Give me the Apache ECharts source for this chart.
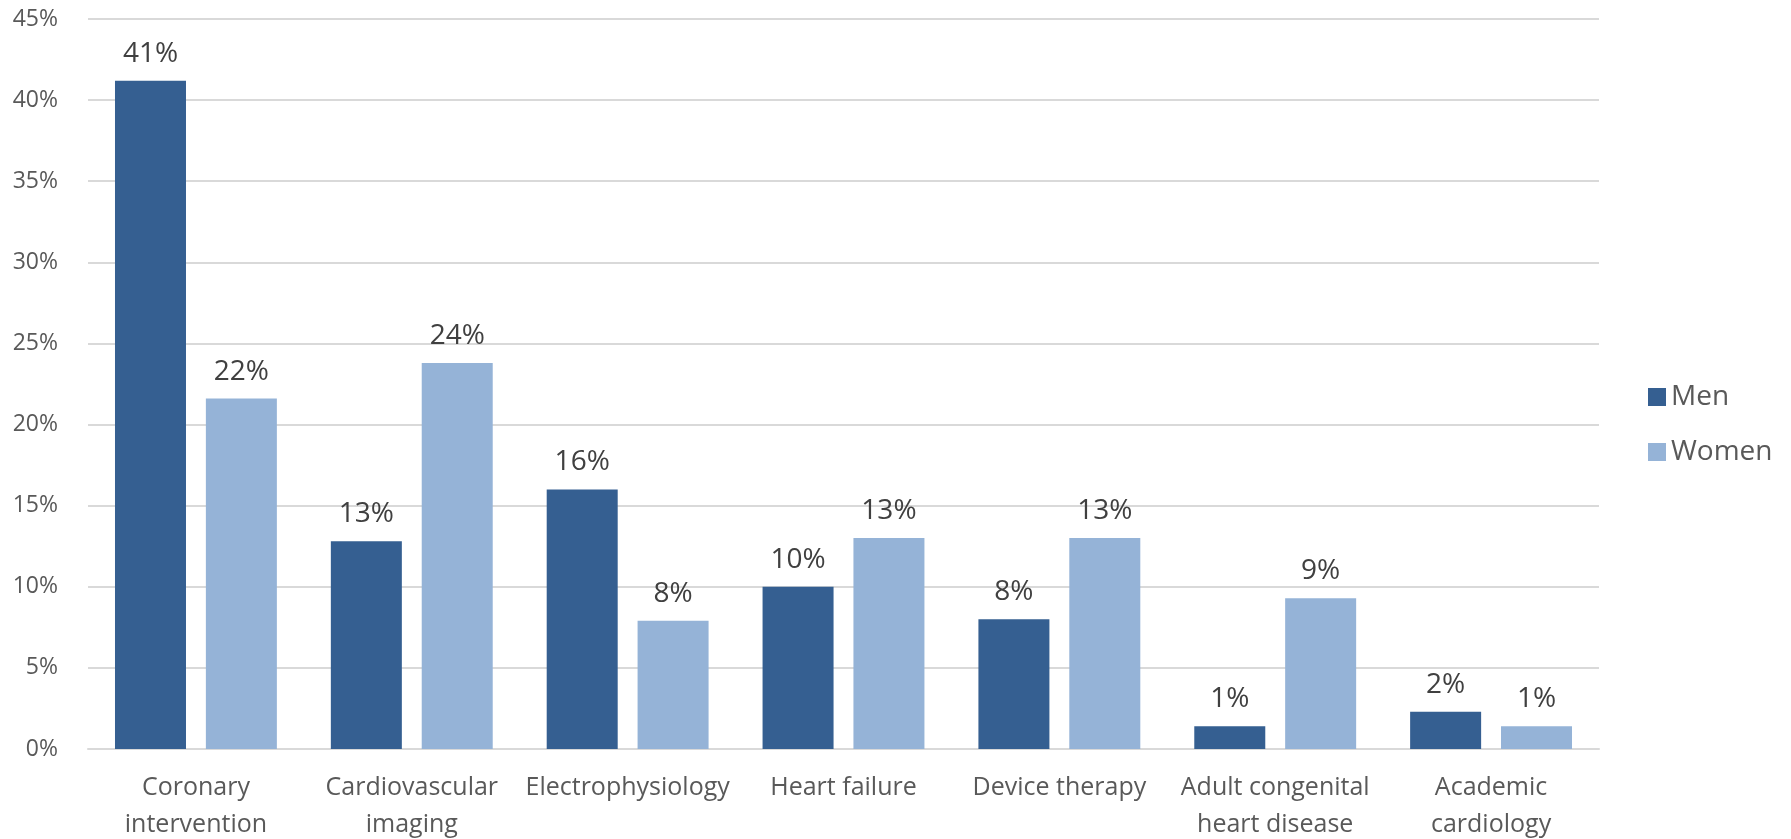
<!DOCTYPE html>
<html>
<head>
<meta charset="utf-8">
<script src="https://cdn.jsdelivr.net/npm/echarts@6/dist/echarts.min.js"></script>
<style>
  html,body{margin:0;padding:0;background:#fff}
  #chart{width:1791px;height:839px}
</style>
</head>
<body>
<div id="chart"></div>
<script>
  // categories and values (percent)
  const categories = ['Coronary\nintervention', 'Cardiovascular\nimaging', 'Electrophysiology', 'Heart failure', 'Device therapy', 'Adult congenital\nheart disease', 'Academic\ncardiology'];
  const men = [41.2, 12.8, 16.0, 10.0, 8.0, 1.4, 2.3];
  const women = [21.6, 23.8, 7.9, 13.0, 13.0, 9.3, 1.4];
  const yTicks = [0, 5, 10, 15, 20, 25, 30, 35, 40, 45];

  const font = '"Open Sans", "Noto Sans", sans-serif';
  const lbl = {
    show: true, position: 'top', distance: 13,
    color: '#404040', fontSize: 28, fontFamily: font,
    formatter: p => Math.round(p.value) + '%'
  };

  const chart = echarts.init(document.getElementById('chart'));
  chart.setOption({
    animation: false,
    grid: {left: 88, right: 192, top: 19, bottom: 90, containLabel: false, outerBoundsMode: 'none'},
    legend: {
      orient: 'vertical', left: 1643, top: 378, itemGap: 27,
      itemWidth: 18, itemHeight: 18, icon: 'rect',
      textStyle: {color: '#595959', fontSize: 28, fontFamily: font, padding: [0, 0, 0, 0]},
      data: ['Men', 'Women']
    },
    xAxis: {
      type: 'category', data: categories,
      axisLine: {show: true, lineStyle: {color: '#d9d9d9', width: 2}},
      axisTick: {show: false},
      axisLabel: {color: '#595959', fontSize: 25, fontFamily: font, lineHeight: 37, margin: 20, interval: 0}
    },
    yAxis: {
      type: 'value', min: yTicks[0], max: yTicks[yTicks.length - 1], interval: 5,
      axisLine: {show: false}, axisTick: {show: false},
      splitLine: {lineStyle: {color: '#d9d9d9', width: 2}},
      axisLabel: {color: '#595959', fontSize: 23, fontFamily: font, margin: 30, formatter: v => v + '%'}
    },
    series: [
      {name: 'Men', type: 'bar', data: men, barWidth: 71, barGap: '28%',
       itemStyle: {color: '#355f91'}, label: lbl},
      {name: 'Women', type: 'bar', data: women, barWidth: 71,
       itemStyle: {color: '#95b3d7'}, label: lbl}
    ]
  });
</script>
</body>
</html>
